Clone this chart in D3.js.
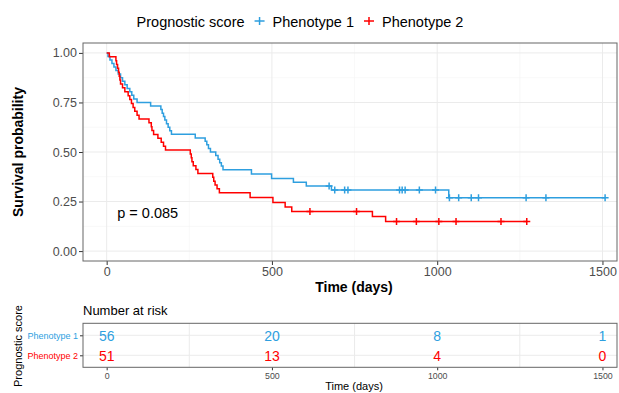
<!DOCTYPE html>
<html>
<head>
<meta charset="utf-8">
<script src="https://cdn.jsdelivr.net/npm/d3@7"></script>
<style>
body { margin:0; background:#fff; }
text { font-family: "Liberation Sans", Arial, sans-serif; }
</style>
</head>
<body>
<svg id="graph"></svg>
<script>
// group names + colours
var groups = ["Phenotype 1", "Phenotype 2"]
var groupColors = ["#2E9FDF", "#FF0000"]

// Kaplan-Meier steps: [time, survival]
var steps1 = [[0,1],[4,0.982],[10,0.964],[16,0.946],[22,0.929],[28,0.911],[35,0.893],[42,0.875],
  [48,0.857],[55,0.839],[62,0.821],[70,0.804],[76,0.786],[82,0.768],[92,0.750],[133,0.732],
  [164,0.714],[168,0.696],[172,0.679],[176,0.661],[181,0.643],[186,0.625],[191,0.607],[196,0.589],
  [268,0.571],[298,0.554],[303,0.536],[308,0.518],[314,0.500],[330,0.482],[337,0.464],[342,0.446],
  [347,0.429],[352,0.411],[438,0.389],[499,0.366],[565,0.347],[604,0.328],[680,0.308],[1035,0.269]]
var end1 = 1508
var censor1 = [673,690,720,730,886,894,903,946,995,1037,1065,1103,1125,1269,1329,1508]

var steps2 = [[0,1],[8,0.980],[28,0.961],[30,0.941],[33,0.922],[36,0.902],[38,0.882],[40,0.863],
  [42,0.843],[48,0.824],[55,0.804],[65,0.784],[70,0.765],[75,0.745],[80,0.725],[85,0.706],
  [92,0.686],[98,0.667],[128,0.647],[135,0.627],[137,0.608],[142,0.588],[155,0.569],[165,0.549],
  [172,0.529],[178,0.510],[253,0.490],[256,0.471],[258,0.451],[262,0.431],[270,0.412],[276,0.392],
  [321,0.373],[324,0.353],[328,0.333],[334,0.314],[341,0.294],[434,0.270],[503,0.245],[540,0.222],
  [560,0.200],[804,0.175],[844,0.149]]
var end2 = 1271
var censor2 = [615,756,877,937,1005,1057,1193,1271]

// number at risk table
var riskTimes = [0, 500, 1000, 1500]
var risk1 = [56, 20, 8, 1]
var risk2 = [51, 13, 4, 0]

var xTicks = [0, 500, 1000, 1500]
var yTicks = [0, 0.25, 0.5, 0.75, 1]
var pText = "p = 0.085"

var screen = {width:619, height:393}

var svg = d3.select("#graph")
    .attr("width", screen.width)
    .attr("height", screen.height)

var panel = {left:83, right:617, top:43, bottom:261}

var xScale = d3.scaleLinear()
    .domain([-71.6, 1544])
    .range([panel.left, panel.right])

var yScale = d3.scaleLinear()
    .domain([-0.05, 1.05])
    .range([panel.bottom, panel.top])

var stepAt = function(steps, t)
{
    var s = steps[0][1]
    steps.forEach(function(p) { if (p[0] <= t) s = p[1] })
    return s
}

var drawGrid = function()
{
    var g = svg.append("g")
    g.selectAll(".xminor")
        .data([250, 750, 1250])
        .enter().append("line")
        .attr("x1", function(d) { return xScale(d) })
        .attr("x2", function(d) { return xScale(d) })
        .attr("y1", panel.top).attr("y2", panel.bottom)
        .attr("stroke", "#f4f4f4").attr("stroke-width", 0.6)
    g.selectAll(".yminor")
        .data([0.125, 0.375, 0.625, 0.875])
        .enter().append("line")
        .attr("y1", function(d) { return yScale(d) })
        .attr("y2", function(d) { return yScale(d) })
        .attr("x1", panel.left).attr("x2", panel.right)
        .attr("stroke", "#f4f4f4").attr("stroke-width", 0.6)
    g.selectAll(".xmajor")
        .data(xTicks)
        .enter().append("line")
        .attr("x1", function(d) { return xScale(d) })
        .attr("x2", function(d) { return xScale(d) })
        .attr("y1", panel.top).attr("y2", panel.bottom)
        .attr("stroke", "#ebebeb").attr("stroke-width", 1)
    g.selectAll(".ymajor")
        .data(yTicks)
        .enter().append("line")
        .attr("y1", function(d) { return yScale(d) })
        .attr("y2", function(d) { return yScale(d) })
        .attr("x1", panel.left).attr("x2", panel.right)
        .attr("stroke", "#ebebeb").attr("stroke-width", 1)
}

var drawCurves = function()
{
    var line = d3.line()
        .x(function(d) { return xScale(d[0]) })
        .y(function(d) { return yScale(d[1]) })
        .curve(d3.curveStepAfter)

    var series = [
        {steps: steps1, end: end1, censor: censor1, color: groupColors[0]},
        {steps: steps2, end: end2, censor: censor2, color: groupColors[1]}
    ]
    series.forEach(function(s)
    {
        var pts = s.steps.concat([[s.end, s.steps[s.steps.length-1][1]]])
        svg.append("path")
            .attr("d", line(pts))
            .attr("fill", "none")
            .attr("stroke", s.color)
            .attr("stroke-width", 1.5)
        svg.append("g")
            .selectAll("path")
            .data(s.censor)
            .enter()
            .append("path")
            .attr("d", "M-3.5,0H3.5M0,-3.5V3.5")
            .attr("transform", function(t)
            {
                return "translate(" + xScale(t) + "," + yScale(stepAt(s.steps, t)) + ")"
            })
            .attr("stroke", s.color)
            .attr("stroke-width", 1.5)
    })
}

var drawAxes = function()
{
    var yAxis = svg.append("g")
        .attr("transform", "translate(" + panel.left + ",0)")
        .call(d3.axisLeft(yScale).tickValues(yTicks).tickFormat(d3.format(".2f")).tickSize(4).tickPadding(2))
    yAxis.select(".domain").remove()
    yAxis.selectAll("line").attr("stroke", "#333")
    yAxis.selectAll("text").attr("fill", "#4d4d4d").style("font-size", "12.5px")
        .style("font-family", "'Liberation Sans', Arial, sans-serif")

    var xAxis = svg.append("g")
        .attr("transform", "translate(0," + panel.bottom + ")")
        .call(d3.axisBottom(xScale).tickValues(xTicks).tickFormat(d3.format("d")).tickSize(4).tickPadding(2))
    xAxis.select(".domain").remove()
    xAxis.selectAll("line").attr("stroke", "#333")
    xAxis.selectAll("text").attr("fill", "#4d4d4d").style("font-size", "12.5px")
        .style("font-family", "'Liberation Sans', Arial, sans-serif")

    svg.append("rect")
        .attr("x", panel.left).attr("y", panel.top)
        .attr("width", panel.right - panel.left)
        .attr("height", panel.bottom - panel.top)
        .attr("fill", "none")
        .attr("stroke", "#666")
        .attr("stroke-width", 1)

    svg.append("text")
        .attr("x", (panel.left + panel.right) / 2 + 4)
        .attr("y", 292)
        .attr("text-anchor", "middle")
        .style("font-size", "14px")
        .style("font-weight", "bold")
        .text("Time (days)")

    svg.append("text")
        .attr("transform", "translate(23," + ((panel.top + panel.bottom) / 2) + ") rotate(-90)")
        .attr("text-anchor", "middle")
        .style("font-size", "14px")
        .style("font-weight", "bold")
        .text("Survival probability")

    svg.append("text")
        .attr("x", xScale(32))
        .attr("y", 218)
        .style("font-size", "14.5px")
        .text(pText)
}

var drawLegend = function()
{
    var ly = 21
    var g = svg.append("g")
    var x = 0
    var title = g.append("text").attr("x", x).attr("y", ly + 5.5)
        .style("font-size", "14.5px").text("Prognostic score")
    x += title.node().getComputedTextLength() + 15
    groups.forEach(function(name, i)
    {
        g.append("path")
            .attr("d", "M-5,0H5M0,-4V4")
            .attr("transform", "translate(" + x + "," + ly + ")")
            .attr("stroke", groupColors[i])
            .attr("stroke-width", 1.5)
        x += 13
        var lab = g.append("text").attr("x", x).attr("y", ly + 5.5)
            .style("font-size", "14.5px").text(name)
        x += lab.node().getComputedTextLength() + 15
    })
    var total = x - 15
    g.attr("transform", "translate(" + (300 - total / 2) + ",0)")
}

var drawRiskTable = function()
{
    var rp = {top:323.3, bottom:367.3}
    var rowScale = d3.scalePoint()
        .domain(groups)
        .range([rp.top, rp.bottom])
        .padding(0.6)

    svg.append("text")
        .attr("x", 83).attr("y", 314.5)
        .style("font-size", "13px")
        .text("Number at risk")

    var g = svg.append("g")
    g.selectAll(".vgrid")
        .data([250, 750, 1250])
        .enter().append("line")
        .attr("x1", function(d) { return xScale(d) })
        .attr("x2", function(d) { return xScale(d) })
        .attr("y1", rp.top).attr("y2", rp.bottom)
        .attr("stroke", "#ebebeb")
    g.selectAll(".hgrid")
        .data(groups)
        .enter().append("line")
        .attr("y1", function(d) { return rowScale(d) })
        .attr("y2", function(d) { return rowScale(d) })
        .attr("x1", panel.left).attr("x2", panel.right)
        .attr("stroke", "#ebebeb")

    var rows = [risk1, risk2]
    rows.forEach(function(vals, i)
    {
        svg.append("g")
            .selectAll("text")
            .data(vals)
            .enter()
            .append("text")
            .attr("x", function(d, j) { return xScale(riskTimes[j]) })
            .attr("y", rowScale(groups[i]) + 5.5)
            .attr("text-anchor", "middle")
            .attr("fill", groupColors[i])
            .style("font-size", "14px")
            .text(function(d) { return d })
    })

    var left = svg.append("g")
        .attr("transform", "translate(" + panel.left + ",0)")
        .call(d3.axisLeft(rowScale).tickSize(3).tickPadding(2))
    left.select(".domain").remove()
    left.selectAll("line").attr("stroke", "#333")
    left.selectAll("text")
        .attr("fill", function(d, i) { return groupColors[i] })
        .style("font-size", "9px")
        .style("font-family", "'Liberation Sans', Arial, sans-serif")

    var bottom = svg.append("g")
        .attr("transform", "translate(0," + rp.bottom + ")")
        .call(d3.axisBottom(xScale).tickValues(xTicks).tickFormat(d3.format("d")).tickSize(3).tickPadding(2))
    bottom.select(".domain").remove()
    bottom.selectAll("line").attr("stroke", "#333")
    bottom.selectAll("text").attr("fill", "#4d4d4d")
        .style("font-size", "8.8px")
        .style("font-family", "'Liberation Sans', Arial, sans-serif")

    svg.append("rect")
        .attr("x", panel.left).attr("y", rp.top)
        .attr("width", panel.right - panel.left)
        .attr("height", rp.bottom - rp.top)
        .attr("fill", "none")
        .attr("stroke", "#666")

    svg.append("text")
        .attr("x", (panel.left + panel.right) / 2 + 4)
        .attr("y", 390)
        .attr("text-anchor", "middle")
        .style("font-size", "11px")
        .text("Time (days)")

    svg.append("text")
        .attr("transform", "translate(22,346) rotate(-90)")
        .attr("text-anchor", "middle")
        .style("font-size", "11px")
        .text("Prognostic score")
}

drawGrid()
drawCurves()
drawAxes()
drawLegend()
drawRiskTable()
</script>
</body>
</html>
